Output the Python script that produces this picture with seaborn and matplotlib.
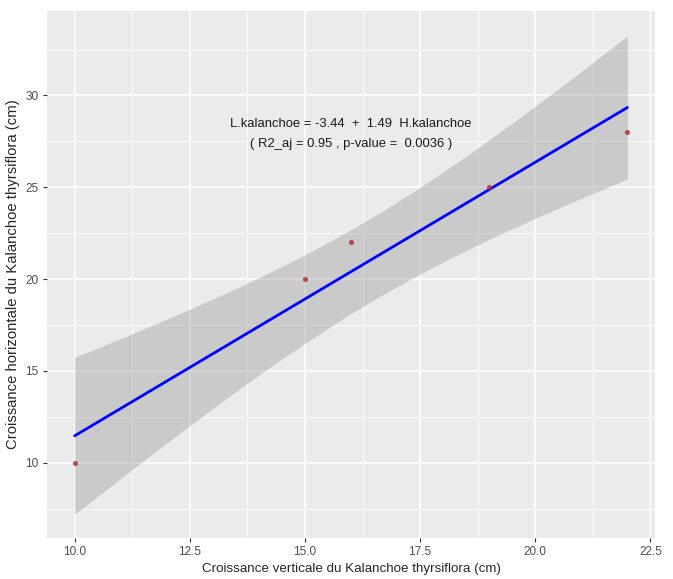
import numpy as np
import pandas as pd
import seaborn as sns
import matplotlib.pyplot as plt
from matplotlib.ticker import MultipleLocator

# Mesures (cm)
hauteur = [10, 15, 16, 19, 22]      # croissance verticale
largeur = [10, 20, 22, 25, 28]      # croissance horizontale
x_ticks = [10.0, 12.5, 15.0, 17.5, 20.0, 22.5]
y_ticks = [10, 15, 20, 25, 30]
equation = "L.kalanchoe = -3.44  +  1.49  H.kalanchoe\n( R2_aj = 0.95 , p-value =  0.0036 )"

df = pd.DataFrame({"H": hauteur, "L": largeur})

sns.set_theme(style="darkgrid", rc={
    "axes.facecolor": "#EBEBEB",
    "grid.color": "white",
    "axes.edgecolor": "#EBEBEB",
})
plt.rcParams["font.family"] = ["Liberation Sans", "DejaVu Sans"]

fig = plt.figure(figsize=(6.73, 5.79), dpi=100)
ax = fig.add_axes([0.0698, 0.0708, 0.9035, 0.9102])

# intervalle de confiance 95 % (t de Student, comme geom_smooth)
x = df["H"].to_numpy(float)
y = df["L"].to_numpy(float)
n = len(x)
b, a = np.polyfit(x, y, 1)
s = np.sqrt(np.sum((y - (a + b * x)) ** 2) / (n - 2))
xs = np.linspace(x.min(), x.max(), 100)
se = s * np.sqrt(1 / n + (xs - x.mean()) ** 2 / np.sum((x - x.mean()) ** 2))
t975 = 3.182446  # t(0.975, ddl = 3)
fit = a + b * xs
ax.fill_between(xs, fit - t975 * se, fit + t975 * se, color="#999999",
                alpha=0.4, lw=0, zorder=2)

sns.regplot(data=df, x="H", y="L", ci=None, ax=ax,
            scatter_kws={"color": "#A83232", "s": 14, "zorder": 4, "linewidths": 0},
            line_kws={"color": "#0000FF", "lw": 2, "zorder": 3})

ax.text(16, 27.9, equation, ha="center", va="center", fontsize=9.4,
        linespacing=1.8, color="#1A1A1A")

ax.set_xlim(9.4, 22.6)
ax.set_ylim(5.9, 34.6)
ax.set_xticks(x_ticks)
ax.set_xticklabels([f"{v:.1f}" for v in x_ticks])
ax.set_yticks(y_ticks)
ax.xaxis.set_minor_locator(MultipleLocator(1.25))
ax.yaxis.set_minor_locator(MultipleLocator(2.5))
ax.grid(which="major", color="white", lw=1.1)
ax.grid(which="minor", color="white", lw=0.55)
ax.tick_params(which="major", length=3, width=0.8, color="#333333",
               labelcolor="#4D4D4D", labelsize=8.5, pad=3, bottom=True, left=True)
ax.tick_params(which="minor", length=0)
for sp in ax.spines.values():
    sp.set_visible(False)

ax.set_xlabel("Croissance verticale du Kalanchoe thyrsiflora (cm)", fontsize=9.6, labelpad=3)
ax.set_ylabel("Croissance horizontale du Kalanchoe thyrsiflora (cm)", fontsize=10.7, labelpad=4)

fig.savefig("out.png", dpi=100)
